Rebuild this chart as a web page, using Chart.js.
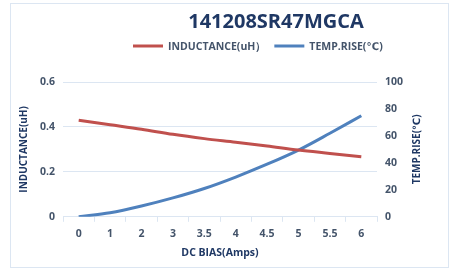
<!DOCTYPE html>
<html>
<head>
<meta charset="utf-8">
<script src="https://cdn.jsdelivr.net/npm/chart.js@4/dist/chart.umd.min.js"></script>
<style>
    html, body { margin: 0; padding: 0; background: #fff; }
    #box {
        position: absolute; left: 10px; top: 3px;
        width: 437px; height: 263px;
        border: 1px solid #dce6f2;
    }
    #box canvas { display: block; }
</style>
</head>
<body>
<div id="box"><canvas id="chart" width="437" height="263"></canvas></div>
<script>
const chartTitle = '141208SR47MGCA';
const categories = ['0', '1', '2', '3', '3.5', '4', '4.5', '5', '5.5', '6'];
const inductance = [0.43, 0.41, 0.39, 0.367, 0.348, 0.332, 0.315, 0.297, 0.282, 0.267];
const tempRise = [0, 3, 8, 14, 21, 29.5, 39, 49.5, 62, 75];
const seriesNames = ['INDUCTANCE(uH）', 'TEMP.RISE(℃)'];
const seriesColors = ['#c0504d', '#4f81bd'];

const navy = '#1f3864';
const tickColor = '#44546a';
const gridColor = '#dce6f2';
const fontFamily = '"Open Sans", "DejaVu Sans", sans-serif';
const tickFont = { family: fontFamily, size: 10.5, weight: 'bold' };

// title, legend and right axis title drawn by hand
const headerPlugin = {
    id: 'header',
    afterDraw(chart) {
        const ctx = chart.ctx;
        const area = chart.chartArea;
        ctx.save();
        ctx.fillStyle = navy;
        ctx.font = 'bold 20px ' + fontFamily;
        ctx.textAlign = 'center';
        ctx.textBaseline = 'middle';
        ctx.fillText(chartTitle, 265, 18);

        // legend
        ctx.font = 'bold 10.5px ' + fontFamily;
        ctx.textAlign = 'left';
        let x = 122;
        const y = 42;
        chart.data.datasets.forEach(function (ds) {
            ctx.strokeStyle = ds.borderColor;
            ctx.lineWidth = 3;
            ctx.beginPath();
            ctx.moveTo(x, y);
            ctx.lineTo(x + 30, y);
            ctx.stroke();
            ctx.fillStyle = tickColor;
            ctx.fillText(ds.label, x + 35, y + 1);
            x += 35 + ctx.measureText(ds.label).width + 8;
        });

        // right axis title, reading bottom to top
        ctx.translate(406, (area.top + area.bottom) / 2);
        ctx.rotate(-Math.PI / 2);
        ctx.textAlign = 'center';
        ctx.fillStyle = navy;
        ctx.font = 'bold 10px ' + fontFamily;
        ctx.fillText('TEMP.RISE(℃)', 0, 0);
        ctx.restore();
    }
};

new Chart(document.getElementById('chart').getContext('2d'), {
    type: 'line',
    data: {
        labels: categories,
        datasets: [{
            label: seriesNames[0],
            data: inductance,
            yAxisID: 'y',
            borderColor: seriesColors[0],
            backgroundColor: seriesColors[0],
            borderWidth: 3,
            pointRadius: 0,
            tension: 0.4,
            cubicInterpolationMode: 'monotone'
        }, {
            label: seriesNames[1],
            data: tempRise,
            yAxisID: 'y1',
            borderColor: seriesColors[1],
            backgroundColor: seriesColors[1],
            borderWidth: 3,
            pointRadius: 0,
            tension: 0.4,
            cubicInterpolationMode: 'monotone'
        }]
    },
    options: {
        responsive: false,
        animation: false,
        layout: { padding: { top: 78, right: 31, bottom: 4, left: 5 } },
        plugins: {
            legend: { display: false },
            title: { display: false },
            tooltip: { enabled: false }
        },
        scales: {
            x: {
                offset: true,
                grid: { display: true, drawOnChartArea: false, color: gridColor, tickLength: 5, offset: true },
                border: { color: gridColor },
                ticks: { color: tickColor, font: tickFont, padding: 6 },
                title: { display: true, text: 'DC BIAS(Amps)', color: navy, font: { family: fontFamily, size: 10.5, weight: 'bold' }, padding: { top: 0 } }
            },
            y: {
                position: 'left',
                min: 0, max: 0.6,
                afterFit: function (scale) { scale.width = 47; },
                ticks: { stepSize: 0.2, color: tickColor, font: tickFont, padding: 8 },
                grid: { color: gridColor, drawTicks: false },
                border: { display: false },
                title: { display: true, text: 'INDUCTANCE(uH)', color: navy, font: { family: fontFamily, size: 10, weight: 'bold' }, padding: 2 }
            },
            y1: {
                position: 'right',
                min: 0, max: 100,
                afterFit: function (scale) { scale.width = 40; },
                ticks: { stepSize: 20, color: tickColor, font: tickFont, padding: 8 },
                grid: { drawOnChartArea: false, drawTicks: false },
                border: { display: false }
            }
        }
    },
    plugins: [headerPlugin]
});
</script>
</body>
</html>
